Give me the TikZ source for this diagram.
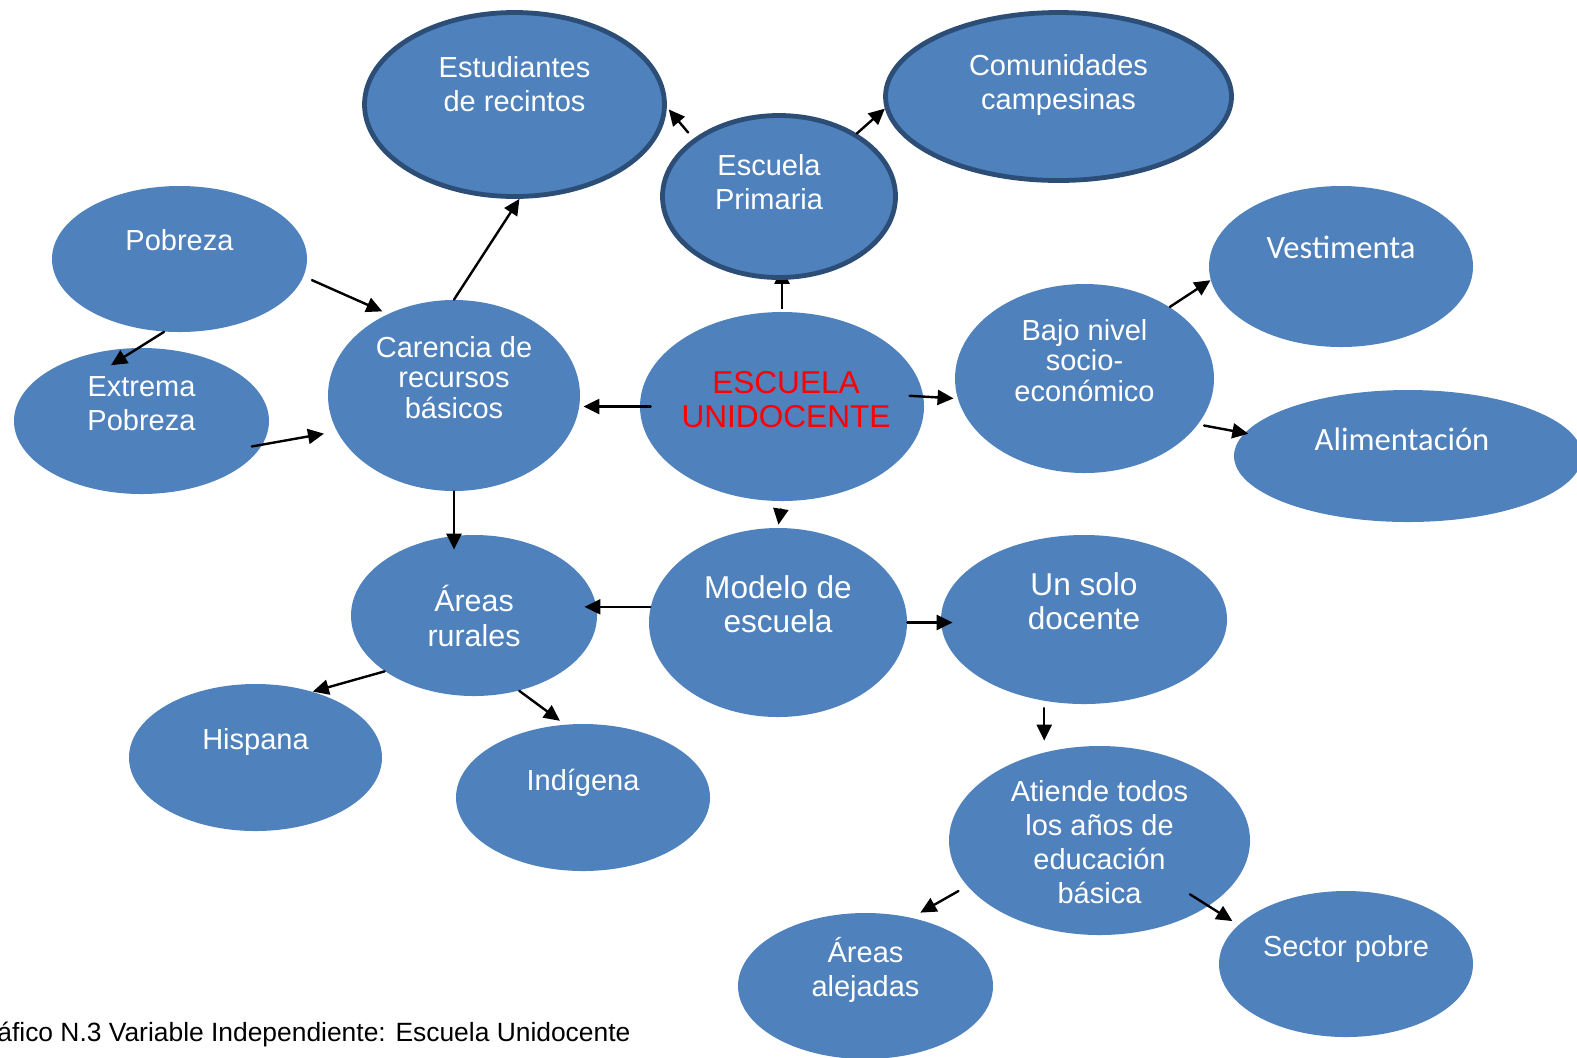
\documentclass[tikz,border=0pt]{standalone}
\usepackage{fontspec}
\setmainfont{Liberation Sans}
\newfontfamily\calfont{Carlito}
\usetikzlibrary{shapes.geometric,arrows.meta,backgrounds}
\definecolor{bblue}{HTML}{4F81BD}
\definecolor{bdark}{HTML}{2C4D75}
\tikzset{
  bub/.style={ellipse,fill=bblue,inner sep=0pt},
  rim/.style={draw=bdark,line width=2.4pt},
  txt/.style={text=white,align=center,font=\fontsize{14.5}{17}\selectfont},
  tight/.style={font=\fontsize{14.5}{15.3}\selectfont},
  big/.style={font=\fontsize{15.8}{17}\selectfont},
  cal/.style={font=\calfont\fontsize{16.3}{19}\selectfont},
  con/.style={->,line width=1.2pt}
}
\begin{document}
\begin{tikzpicture}[line cap=round,line join=round,>={Triangle[length=8pt,width=7.5pt]},x=0.5pt,y=-0.5pt]
\useasboundingbox (0,0) rectangle (1577,1057);
\node[bub,rim,minimum width=150pt,minimum height=92pt,label={[txt,yshift=10pt]center:Estudiantes\\de recintos}] (est) at (514.5,104.5) {};
\node[bub,rim,minimum width=116.5pt,minimum height=81pt,label={[txt,yshift=7pt,xshift=-5pt]center:Escuela\\Primaria}] (prim) at (779,196.5) {};
\node[bub,rim,minimum width=173pt,minimum height=84pt,label={[txt,yshift=6pt]center:Comunidades\\campesinas}] (com) at (1058.5,96.5) {};
\node[bub,minimum width=127.5pt,minimum height=73pt,label={[txt,yshift=9.5pt]center:Pobreza}] (pob) at (179.5,259) {};
\node[bub,minimum width=127.5pt,minimum height=73pt,label={[txt,yshift=8.5pt]center:Extrema\\Pobreza}] (ext) at (141.5,421) {};
\node[bub,minimum width=126pt,minimum height=95.5pt,label={[txt,tight,yshift=9pt]center:Carencia de\\recursos\\básicos}] (car) at (454,395.5) {};
\node[bub,minimum width=142pt,minimum height=94.5pt,label={[txt,big,text=red,yshift=3.5pt,xshift=2pt]center:ESCUELA\\UNIDOCENTE}] (uni) at (782,406.5) {};
\node[bub,minimum width=129.5pt,minimum height=94.5pt,label={[txt,tight,yshift=9pt]center:Bajo nivel\\socio-\\económico}] (baj) at (1084.5,378.5) {};
\node[bub,minimum width=132pt,minimum height=80.5pt,label={[txt,cal,yshift=9.5pt]center:Vestimenta}] (ves) at (1341,266.5) {};
\node[bub,minimum width=174pt,minimum height=66pt,label={[txt,cal,yshift=8.5pt,xshift=-3pt]center:Alimentación}] (ali) at (1408,456) {};
\node[bub,minimum width=123pt,minimum height=80.5pt,label={[txt,font=\fontsize{15.2}{17.5}\selectfont]center:Áreas\\rurales}] (aru) at (474,615.5) {};
\node[bub,minimum width=129pt,minimum height=94.5pt,label={[txt,big,yshift=9pt]center:Modelo de\\escuela}] (mod) at (778,622.5) {};
\node[bub,minimum width=143pt,minimum height=84.5pt,label={[txt,big,yshift=9pt]center:Un solo\\docente}] (uns) at (1084,619.5) {};
\node[bub,minimum width=126.5pt,minimum height=73.5pt,label={[txt,yshift=8pt]center:Hispana}] (his) at (255.5,757.5) {};
\node[bub,minimum width=127pt,minimum height=73.5pt,label={[txt,yshift=7.5pt]center:Indígena}] (ind) at (583,797.5) {};
\node[bub,minimum width=150.5pt,minimum height=94.5pt,label={[txt,yshift=-1pt]center:Atiende todos\\los años de\\educación\\básica}] (ati) at (1099.5,840.5) {};
\node[bub,minimum width=127.5pt,minimum height=73pt,label={[txt,yshift=8pt]center:Áreas\\alejadas}] (ale) at (865.5,986) {};
\node[bub,minimum width=127pt,minimum height=73pt,label={[txt,yshift=7.5pt]center:Sector pobre}] (sec) at (1346,964) {};
\node[anchor=base west,inner sep=0pt,font=\fontsize{13.2}{15}\selectfont] (cap) at (-3,1041) {áfico N.3 Variable Independiente: Escuela Unidocente};
\begin{scope}[on background layer]
\draw[con,shorten <=1.5pt,shorten >=-6pt] (uni.north) -- (uni.north |- prim.south);
\end{scope}
\draw[con,shorten <=4pt,shorten >=1.5pt] (prim.146) -- (est.-1);
\draw[con] (prim.39) -- (com.184);
\draw[con,shorten <=-5.5pt,shorten >=1.5pt] (uni.west) -- (uni.west -| car.east);
\draw[con,shorten <=-7pt,shorten >=2pt] (uni.4) -- (baj.189);
\draw[con,shorten <=4pt,shorten >=1.5pt] (uni.south) -- (mod.north);
\draw[con,shorten <=4.5pt,shorten >=3pt] (pob.-8) -- (car.129);
\draw[con,shorten >=-16.5pt] (pob.258) -- (ext.92);
\draw[con,shorten <=-5.5pt,shorten >=6.5pt] (ext.-11) -- (car.197);
\draw[con] (car.north) -- (est.-87);
\draw[con,shorten >=-7.5pt] (car.south) -- (car.south |- aru.north);
\draw[con,shorten >=-6.5pt] (mod.173) -- (mod.173 -| aru.east);
\draw[con,shorten >=-6pt] (mod.east) -- (mod.east -| uns.west);
\draw[con] (aru.212) -- (his.49);
\draw[con,shorten >=3pt] (aru.-59) -- (ind.104);
\draw[con,shorten <=3.5pt,shorten >=2.5pt] (uns.-116) -- (uns.-116 |- ati.north);
\draw[con,shorten <=5pt,shorten >=5pt] (ati.199) -- (ale.56);
\draw[con,shorten <=-11pt,shorten >=3.5pt] (ati.-31) -- (sec.160);
\draw[con] (baj.40) -- (ves.186);
\draw[con,shorten <=3pt,shorten >=-2pt] (baj.-22) -- (ali.172);
\end{tikzpicture}
\end{document}
